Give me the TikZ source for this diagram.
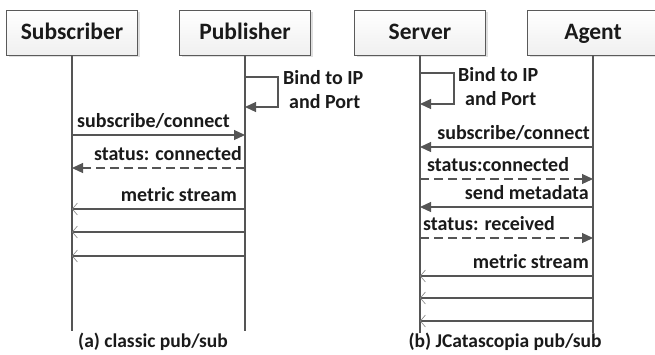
\documentclass[tikz,border=0pt]{standalone}
\usepackage{fontspec}
\setmainfont{Carlito}
\usetikzlibrary{arrows.meta,shadows}
\definecolor{ln}{HTML}{555555}
\definecolor{bx}{HTML}{5A5A5A}
\definecolor{tx}{HTML}{1A1A1A}
\tikzset{
  actor/.style={draw=bx, line width=0.9pt, top color=white, bottom color=gray!12,
    minimum width=131pt, minimum height=45pt, inner sep=0pt, text=tx,
    text height=16pt, text depth=2pt,
    font=\fontsize{23.5}{26}\selectfont\bfseries,
    drop shadow={shadow xshift=2pt, shadow yshift=-2pt, fill=gray!50, opacity=0.5}},
  life/.style={draw=ln, line width=1.2pt},
  msg/.style={draw=ln, line width=1.2pt, -{Triangle[length=11pt,width=10pt]}},
  dmsg/.style={msg, dash pattern=on 9pt off 5pt},
  stream/.style={draw=ln, line width=1.2pt, -{Straight Barb[length=5pt,width=12pt,line width=0.6pt,color=gray]}},
  lbl/.style={font=\fontsize{20}{22}\selectfont\bfseries, inner sep=0pt, text=tx},
  captext/.style={font=\fontsize{19.5}{22}\selectfont\bfseries, inner sep=0pt, text=tx},
}
\begin{document}
\begin{tikzpicture}[x=1pt,y=-1pt]
\useasboundingbox (0,0) rectangle (655,354);
\clip (0,0) rectangle (655,354);
% actors
\node[actor] (sub) at (72,32.5) {Subscriber};
\node[actor] (pub) at (245,32.5) {Publisher};
\node[actor] (srv) at (420,32.5) {Server};
\node[actor] (agt) at (593,32.5) {Agent};
% lifeline ends
\coordinate (subE) at (72,331);
\coordinate (pubE) at (245,331);
\coordinate (srvE) at (420,333);
\coordinate (agtE) at (593,333);
\draw[life] (sub.south) -- (subE);
\draw[life] (pub.south) -- (pubE);
\draw[life] (srv.south) -- (srvE);
\draw[life] (agt.south) -- (agtE);
% ---- panel (a)
\draw[msg] (pub |- 0,77) -- ++(33,0) -- ++(0,30) -- (pub |- 0,107);
\node[lbl, anchor=base west] (b1) at (283,84) {Bind to IP};
\node[lbl, anchor=base west] (b2) at (289,108) {and Port};
\draw[msg] (sub |- 0,135) -- (pub |- 0,135);
\node[lbl, anchor=base west] at (77,127) {subscribe/connect};
\draw[dmsg] (pub |- 0,168) -- (sub |- 0,168);
\node[lbl, anchor=base east] at (242,160) {status: connected};
\draw[stream] (pub |- 0,209) -- (sub |- 0,209);
\node[lbl, anchor=base east] at (237,201) {metric stream};
\draw[stream] (pub |- 0,232) -- (sub |- 0,232);
\draw[stream] (pub |- 0,256) -- (sub |- 0,256);
\node[captext, anchor=base] at (153,347) {(a) classic pub/sub};
% ---- panel (b)
\draw[msg] (srv |- 0,73) -- ++(34,0) -- ++(0,31) -- (srv |- 0,104);
\node[lbl, anchor=base west] at (458,81) {Bind to IP};
\node[lbl, anchor=base west] at (465,105) {and Port};
\draw[msg] (agt |- 0,147) -- (srv |- 0,147);
\node[lbl, anchor=base east] at (590,139) {subscribe/connect};
\draw[dmsg] (srv |- 0,179) -- (agt |- 0,179);
\node[lbl, anchor=base west] at (427,171) {status:connected};
\draw[msg] (agt |- 0,207) -- (srv |- 0,207);
\node[lbl, anchor=base east] at (589,199) {send metadata};
\draw[dmsg] (srv |- 0,238) -- (agt |- 0,238);
\node[lbl, anchor=base west] at (423,230) {status: received};
\draw[stream] (agt |- 0,276) -- (srv |- 0,276);
\node[lbl, anchor=base east] at (589,268) {metric stream};
\draw[stream] (agt |- 0,298) -- (srv |- 0,298);
\draw[stream] (agt |- 0,321) -- (srv |- 0,321);
\node[captext, anchor=base] at (505,347) {(b) JCatascopia pub/sub};
\end{tikzpicture}
\end{document}
